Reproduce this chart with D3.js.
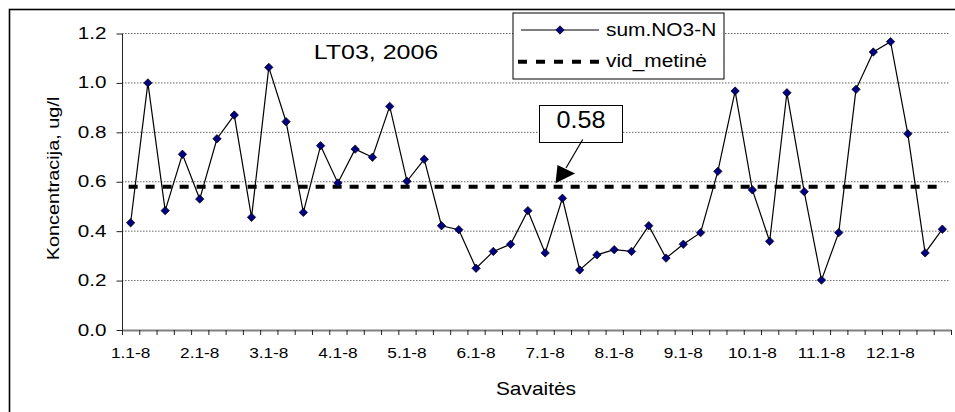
<!DOCTYPE html>
<meta charset="utf-8">
<style>
body { margin: 0; background: #fff; }
svg { display: block; font-family: "Liberation Sans", Arial, sans-serif; }
.grid line { stroke: #666; stroke-dasharray: 1.5,1.5; }
</style>
<svg width="955" height="412"></svg>
<script src="https://d3js.org/d3.v7.min.js"></script>
<script>

// week index 0..47, a label every 4th week
var weeks = d3.range(48);
var tickLabels = ["1.1-8", "2.1-8", "3.1-8", "4.1-8", "5.1-8", "6.1-8",
                  "7.1-8", "8.1-8", "9.1-8", "10.1-8", "11.1-8", "12.1-8"];
var values = [0.434, 1.00, 0.483, 0.711, 0.530, 0.774, 0.870, 0.456, 1.063, 0.843,
              0.476, 0.746, 0.595, 0.732, 0.699, 0.905, 0.602, 0.691, 0.422, 0.406,
              0.250, 0.318, 0.347, 0.483, 0.312, 0.533, 0.243, 0.304, 0.325, 0.318,
              0.422, 0.291, 0.347, 0.394, 0.642, 0.967, 0.567, 0.359, 0.960, 0.560,
              0.202, 0.394, 0.974, 1.125, 1.167, 0.794, 0.312, 0.408];
var yearMean = 0.58;
var yTicks = [0, 0.2, 0.4, 0.6, 0.8, 1.0, 1.2];

var svg = d3.select("svg");
// plot area edges ("top" is taken by window.top)
var plotL = 122, plotR = 951, plotT = 33.5, plotB = 330;

var x = d3.scaleBand().domain(weeks).range([plotL, plotR]).padding(0);
var xb = d3.scaleLinear().domain([0, weeks.length]).range([plotL, plotR]);
var y = d3.scaleLinear().domain([0, 1.2]).range([plotB, plotT]);
var cx = function(i) { return x(i) + x.bandwidth() / 2; };

// widen text a bit, the original picture is stretched sideways
function stretch(sel, k) {
  sel.each(function() {
    var w = this.getComputedTextLength();
    d3.select(this).attr("textLength", w * k).attr("lengthAdjust", "spacingAndGlyphs");
  });
}

// outer frame (runs off the picture on the right and bottom)
svg.append("rect")
  .attr("x", 9.5).attr("y", 9.5).attr("width", 1000).attr("height", 600)
  .attr("fill", "none").attr("stroke", "#000").attr("stroke-width", 1.6);

// gridlines
svg.append("g").attr("class", "grid")
  .selectAll("line")
  .data(yTicks.slice(1))
  .enter().append("line")
  .attr("x1", plotL).attr("x2", plotR - 1)
  .attr("y1", function(d) { return y(d); })
  .attr("y2", function(d) { return y(d); });

// y axis
var yAxis = svg.append("g")
  .attr("transform", "translate(" + plotL + ",0)")
  .call(d3.axisLeft(y).tickValues(yTicks).tickFormat(d3.format(".1f")).tickSize(5.5).tickSizeOuter(0));
yAxis.select(".domain").attr("stroke", "#222");
yAxis.selectAll("line").attr("stroke", "#222");
yAxis.selectAll("text")
  .attr("x", -15.5).attr("dy", null).attr("y", 5)
  .attr("font-size", 16).attr("font-family", null).attr("fill", "#000")
  .call(stretch, 1.29);

// x axis, ticks between the weeks
var xAxis = svg.append("g")
  .attr("transform", "translate(0," + plotB + ")")
  .call(d3.axisBottom(xb).tickValues(d3.range(weeks.length + 1)).tickFormat("").tickSize(5).tickSizeOuter(0));
xAxis.select(".domain").attr("stroke", "#808080").attr("stroke-width", 2);
xAxis.selectAll(".tick line").attr("stroke", "#222");

svg.append("g").selectAll("text")
  .data(tickLabels)
  .enter().append("text")
  .attr("x", function(d, i) { return cx(i * 4); })
  .attr("y", 358.3)
  .attr("text-anchor", "middle")
  .attr("font-size", 14)
  .text(function(d) { return d; })
  .call(stretch, 1.23);

// axis titles
svg.append("text")
  .attr("transform", "translate(59,178.5) rotate(-90)")
  .attr("text-anchor", "middle")
  .attr("font-size", 17)
  .text("Koncentracija, ug/l")
  .call(stretch, 1.17);

svg.append("text")
  .attr("x", 536).attr("y", 395)
  .attr("text-anchor", "middle")
  .attr("font-size", 19)
  .text("Savaitės")
  .call(stretch, 1.1);

svg.append("text")
  .attr("x", 376).attr("y", 59.3)
  .attr("text-anchor", "middle")
  .attr("font-size", 21)
  .text("LT03, 2006")
  .call(stretch, 1.19);

// yearly mean
svg.append("line")
  .attr("x1", cx(0) - 2).attr("x2", cx(weeks.length - 1))
  .attr("y1", y(yearMean)).attr("y2", y(yearMean))
  .attr("stroke", "#000").attr("stroke-width", 4).attr("stroke-dasharray", "9,8");

// series
var line = d3.line()
  .x(function(d, i) { return cx(i); })
  .y(function(d) { return y(d); });

svg.append("path")
  .datum(values)
  .attr("d", line)
  .attr("fill", "none").attr("stroke", "#000").attr("stroke-width", 1.2);

var diamond = "M0,-4.2L4.2,0L0,4.2L-4.2,0Z";
svg.append("g").selectAll("path")
  .data(values)
  .enter().append("path")
  .attr("d", diamond)
  .attr("transform", function(d, i) { return "translate(" + cx(i) + "," + y(d) + ")"; })
  .attr("fill", "#000080").attr("stroke", "#000").attr("stroke-width", 0.7);

// annotation for the mean
svg.append("rect")
  .attr("x", 539.5).attr("y", 105.5).attr("width", 83).attr("height", 37)
  .attr("fill", "#fff").attr("stroke", "#000").attr("stroke-width", 1);
svg.append("text")
  .attr("x", 581).attr("y", 127.5)
  .attr("text-anchor", "middle")
  .attr("font-size", 24)
  .text(d3.format(".2f")(yearMean))
  .call(stretch, 1.05);

var tip = [555.5, y(yearMean) - 3.5];
svg.append("line")
  .attr("x1", 582.7).attr("y1", 139.5)
  .attr("x2", 566).attr("y2", 168)
  .attr("stroke", "#000").attr("stroke-width", 1.2);
svg.append("path")
  .attr("d", "M" + tip + "L557.5,165L575,173.5Z")
  .attr("fill", "#000");

// legend
var lg = svg.append("g");
lg.append("rect")
  .attr("x", 513).attr("y", 13).attr("width", 211).attr("height", 66)
  .attr("fill", "#fff").attr("stroke", "#000").attr("stroke-width", 1);
lg.append("line")
  .attr("x1", 521).attr("x2", 599).attr("y1", 30).attr("y2", 30)
  .attr("stroke", "#000").attr("stroke-width", 1.2);
lg.append("path")
  .attr("d", diamond)
  .attr("transform", "translate(560,30)")
  .attr("fill", "#000080").attr("stroke", "#000").attr("stroke-width", 0.7);
lg.append("line")
  .attr("x1", 518).attr("x2", 601).attr("y1", 61.7).attr("y2", 61.7)
  .attr("stroke", "#000").attr("stroke-width", 4).attr("stroke-dasharray", "9,9");
lg.append("text")
  .attr("x", 606).attr("y", 36)
  .attr("font-size", 18)
  .text("sum.NO3-N")
  .call(stretch, 1.16);
lg.append("text")
  .attr("x", 606).attr("y", 67)
  .attr("font-size", 18)
  .text("vid_metinė")
  .call(stretch, 1.16);

</script>
